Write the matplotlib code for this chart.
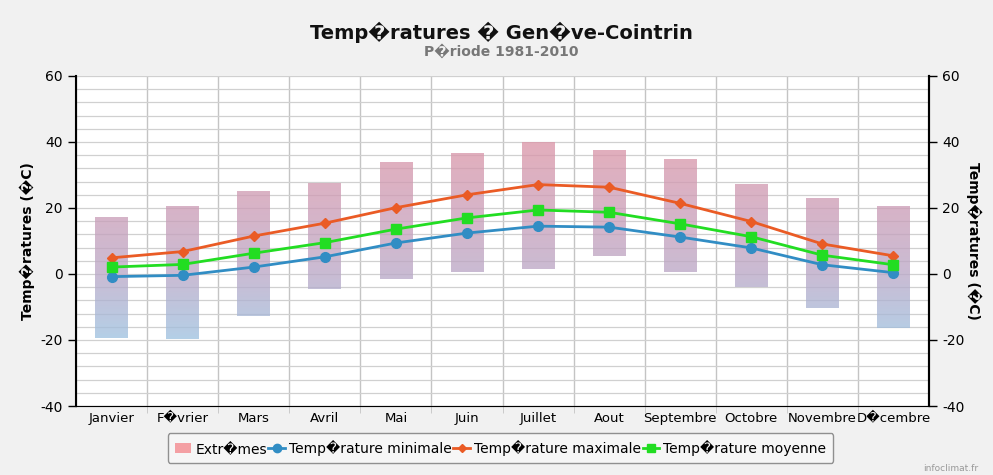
import numpy as np
import matplotlib
matplotlib.use('Agg')
import matplotlib.pyplot as plt
from matplotlib.colors import LinearSegmentedColormap
from matplotlib.lines import Line2D
from matplotlib.patches import Patch

plt.rcParams['axes.unicode_minus'] = False

# data
mois = ['Janvier', 'F\ufffdvrier', 'Mars', 'Avril', 'Mai', 'Juin', 'Juillet',
        'Aout', 'Septembre', 'Octobre', 'Novembre', 'D\ufffdcembre']
extr_haut = [17.4, 20.6, 25.1, 27.7, 33.9, 36.6, 39.9, 37.6, 34.7, 27.4, 23.1, 20.7]
extr_bas = [-19.5, -19.7, -12.6, -4.6, -1.6, 0.5, 1.6, 5.5, 0.7, -3.9, -10.3, -16.5]
t_min = [-0.8, -0.4, 2.1, 5.2, 9.4, 12.4, 14.5, 14.2, 11.2, 7.9, 2.8, 0.4]
t_max = [4.9, 6.8, 11.5, 15.4, 20.1, 24.0, 27.1, 26.3, 21.4, 15.9, 9.1, 5.5]
t_moy = [2.1, 2.9, 6.3, 9.5, 13.6, 17.0, 19.4, 18.7, 15.2, 11.3, 5.7, 2.8]

c_min = '#318dc4'
c_max = '#ea5b25'
c_moy = '#22dd22'

fig = plt.figure(figsize=(9.93, 4.75), dpi=100)
fig.patch.set_facecolor('#f1f1f1')
ax = fig.add_axes([76/993, 1-406/475, (929-76)/993, 330/475])
ax.set_facecolor('white')

x = np.arange(len(mois))

# extremes bars, colour depends on temperature (blue cold -> pink warm)
cmap = LinearSegmentedColormap.from_list('ext', [(0.0, (0.62, 0.76, 0.88)),
                                                 (0.33, (0.73, 0.66, 0.78)),
                                                 (0.66, (0.80, 0.62, 0.72)),
                                                 (1.0, (0.86, 0.59, 0.66))])
grad = np.linspace(40, -40, 200).reshape(-1, 1)
bars = ax.bar(x, np.array(extr_haut) - np.array(extr_bas), bottom=extr_bas,
              width=0.46, color='none', zorder=2)
for b in bars:
    im = ax.imshow(grad, extent=[b.get_x(), b.get_x() + b.get_width(), -40, 40],
                   cmap=cmap, vmin=-20, vmax=40, aspect='auto', alpha=0.78, zorder=2)
    im.set_clip_path(b)

ax.plot(x, t_min, color=c_min, lw=2, marker='o', ms=7, zorder=4)
ax.plot(x, t_max, color=c_max, lw=2, marker='D', ms=5, zorder=4)
ax.plot(x, t_moy, color=c_moy, lw=2, marker='s', ms=7, zorder=5)

ax.set_xlim(-0.5, 11.5)
ax.set_ylim(-40, 60)
ax.set_yticks(np.arange(-40, 61, 20))
ax.set_yticks(np.arange(-40, 61, 4), minor=True)
ax.set_xticks(x)
ax.set_xticklabels(mois, fontsize=9.5)
ax.set_xticks(np.arange(0.5, 11.5, 1), minor=True)
ax.tick_params(axis='x', which='major', length=0, pad=4)
ax.tick_params(axis='x', which='minor', length=5, color='#c4c4c4')
ax.tick_params(axis='y', which='major', length=6, width=1, labelsize=10)
ax.tick_params(axis='y', which='minor', length=0)
ax.grid(True, axis='y', which='both', color='#d0d0d0', lw=0.9, zorder=0)
ax.grid(True, axis='x', which='minor', color='#c4c4c4', lw=1, zorder=0)
ax.spines['top'].set_visible(False)
ax.spines['bottom'].set_color('#999999')
ax.spines['left'].set_linewidth(1.5)
ax.spines['right'].set_linewidth(1.5)
ax.set_ylabel('Temp\ufffdratures (\ufffdC)', fontsize=10, fontweight='bold', labelpad=4)

ax2 = ax.twinx()
ax2.set_ylim(-40, 60)
ax2.set_yticks(np.arange(-40, 61, 20))
ax2.tick_params(axis='y', length=6, width=1, labelsize=10)
ax2.spines['right'].set_linewidth(1.5)
ax2.spines['top'].set_visible(False)
ax2.set_ylabel('Temp\ufffdratures (\ufffdC)', fontsize=10, fontweight='bold',
               rotation=270, labelpad=12)

fig.text(0.505, 0.932, 'Temp\ufffdratures \ufffd Gen\ufffdve-Cointrin', ha='center',
         va='center', fontsize=14, fontweight='bold', color='#111111')
fig.text(0.505, 0.893, 'P\ufffdriode 1981-2010', ha='center', va='center',
         fontsize=10, fontweight='bold', color='#777777')

handles = [Patch(facecolor='#f4a0a4', edgecolor='none'),
           Line2D([], [], color=c_min, lw=2, marker='o', ms=6),
           Line2D([], [], color=c_max, lw=2, marker='D', ms=4),
           Line2D([], [], color=c_moy, lw=2, marker='s', ms=6)]
labels = ['Extr\ufffdmes', 'Temp\ufffdrature minimale', 'Temp\ufffdrature maximale',
          'Temp\ufffdrature moyenne']
leg = fig.legend(handles, labels, loc='center', bbox_to_anchor=(0.504, 0.057), ncol=4,
                 fontsize=10, handlelength=1.2, handletextpad=0.3, columnspacing=0.1,
                 frameon=True, fancybox=True, borderpad=0.5)
leg.get_frame().set_edgecolor('#909090')
leg.get_frame().set_facecolor('#f6f6f6')
leg.get_frame().set_alpha(1)

fig.text(0.985, 0.005, 'infoclimat.fr', ha='right', va='bottom', fontsize=6.5, color='#999999')

fig.savefig('out.png', dpi=100, facecolor=fig.get_facecolor())
